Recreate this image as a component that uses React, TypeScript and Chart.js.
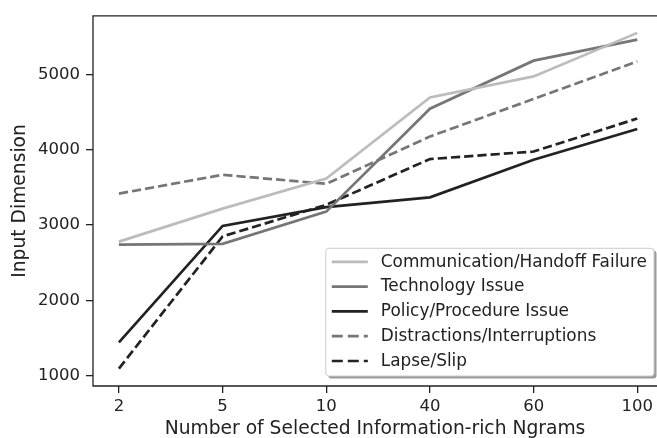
import React, { useEffect, useRef } from 'react';
import { Chart, registerables } from 'chart.js';

Chart.register(...registerables);

const xLabels = ['2', '5', '10', '40', '60', '100'];
const seriesNames = [
  'Communication/Handoff Failure',
  'Technology Issue',
  'Policy/Procedure Issue',
  'Distractions/Interruptions',
  'Lapse/Slip',
];
const communication = [2780, 3220, 3620, 4700, 4980, 5560];
const technology = [2740, 2750, 3180, 4550, 5190, 5470];
const policy = [1440, 2990, 3240, 3370, 3870, 4280];
const distractions = [3420, 3670, 3550, 4180, 4680, 5180];
const lapse = [1090, 2850, 3270, 3880, 3980, 4420];
const yTicks = [1000, 2000, 3000, 4000, 5000];

const FONT = "'DejaVu Sans', sans-serif";
const INK = '#222222';

const boxLegend = {
  id: 'boxLegend',
  afterDraw(chart: any) {
    const ctx = chart.ctx as CanvasRenderingContext2D;
    const { left, top, bottom } = chart.chartArea;
    const edge = chart.width;
    ctx.save();
    ctx.strokeStyle = INK;
    ctx.lineWidth = 1.3;
    ctx.beginPath();
    ctx.moveTo(edge + 2, top);
    ctx.lineTo(left, top);
    ctx.lineTo(left, bottom);
    ctx.lineTo(edge + 2, bottom);
    ctx.stroke();

    const fontSize = 16.9;
    ctx.font = `${fontSize}px ${FONT}`;
    const items = chart.data.datasets.map((d: any) => ({
      label: d.label as string,
      color: d.borderColor as string,
      dash: (d.borderDash || []) as number[],
      width: d.borderWidth as number,
    }));
    let maxW = 0;
    items.forEach((it: any) => {
      maxW = Math.max(maxW, ctx.measureText(it.label).width);
    });
    const rowH = 24.8;
    const boxW = 55 + maxW + 7;
    const boxH = 13.5 + rowH * (items.length - 1) + 15;
    const bx = edge - 3 - boxW;
    const by = bottom - 10 - boxH;

    const rr = (x: number, y: number, w: number, h: number, r: number) => {
      ctx.beginPath();
      ctx.moveTo(x + r, y);
      ctx.lineTo(x + w - r, y);
      ctx.quadraticCurveTo(x + w, y, x + w, y + r);
      ctx.lineTo(x + w, y + h - r);
      ctx.quadraticCurveTo(x + w, y + h, x + w - r, y + h);
      ctx.lineTo(x + r, y + h);
      ctx.quadraticCurveTo(x, y + h, x, y + h - r);
      ctx.lineTo(x, y + r);
      ctx.quadraticCurveTo(x, y, x + r, y);
      ctx.closePath();
    };
    ctx.fillStyle = 'rgba(120,120,120,0.75)';
    rr(bx + 2.5, by + 2.5, boxW, boxH, 3);
    ctx.fill();
    ctx.fillStyle = '#ffffff';
    rr(bx, by, boxW, boxH, 3);
    ctx.fill();
    ctx.strokeStyle = '#cccccc';
    ctx.lineWidth = 1;
    ctx.stroke();

    ctx.textBaseline = 'middle';
    ctx.textAlign = 'left';
    items.forEach((it: any, i: number) => {
      const cy = by + 13.5 + i * rowH;
      ctx.strokeStyle = it.color;
      ctx.lineWidth = it.width;
      ctx.setLineDash(it.dash.length ? [11, 5] : []);
      ctx.lineCap = 'butt';
      ctx.beginPath();
      ctx.moveTo(bx + 6, cy);
      ctx.lineTo(bx + 42, cy);
      ctx.stroke();
      ctx.setLineDash([]);
      ctx.fillStyle = INK;
      ctx.fillText(it.label, bx + 55, cy + 0.5);
    });
    ctx.restore();
  },
};

export default function App() {
  const ref = useRef<HTMLCanvasElement | null>(null);

  useEffect(() => {
    if (!ref.current) return;
    const seriesValues = [communication, technology, policy, distractions, lapse];
    const colors = ['#bcbcbc', '#767676', '#222222', '#767676', '#222222'];
    const dashes = [[], [], [], [9.25, 4], [9.25, 4]];
    const datasets = seriesNames.map((name, si) => ({
      label: name,
      data: seriesValues[si].map((v, i) => ({ x: i, y: v })),
      borderColor: colors[si],
      backgroundColor: colors[si],
      borderWidth: 2.7,
      borderDash: dashes[si],
      pointRadius: 0,
      tension: 0,
      fill: false,
    }));

    const chart = new Chart(ref.current, {
      type: 'line',
      data: { datasets },
      plugins: [boxLegend],
      options: {
        animation: false,
        responsive: false,
        maintainAspectRatio: false,
        devicePixelRatio: 1,
        layout: { padding: { top: 15, right: 0, left: 0, bottom: 0 } },
        plugins: {
          legend: { display: false },
          tooltip: { enabled: false },
        },
        scales: {
          x: {
            type: 'linear',
            min: -0.25,
            max: 5.19,
            afterBuildTicks: (scale: any) => {
              scale.ticks = xLabels.map((_, i) => ({ value: i }));
            },
            afterFit: (scale: any) => {
              scale.height = 52;
              scale.paddingRight = 0;
            },
            ticks: {
              callback: (v: any) => xLabels[v as number] ?? '',
              font: { family: FONT, size: 16.5 },
              color: INK,
              padding: 4,
              maxRotation: 0,
              autoSkip: false,
            },
            grid: {
              display: true,
              drawOnChartArea: false,
              drawTicks: true,
              tickLength: 7,
              color: INK,
              lineWidth: 1.3,
            },
            border: { display: false },
            title: {
              display: true,
              text: 'Number of Selected Information-rich Ngrams',
              font: { family: FONT, size: 18.7, lineHeight: 1 },
              color: INK,
              padding: { top: 0, bottom: 0 },
            },
          },
          y: {
            type: 'linear',
            min: 858,
            max: 5786,
            afterBuildTicks: (scale: any) => {
              scale.ticks = yTicks.map((v) => ({ value: v }));
            },
            afterFit: (scale: any) => {
              scale.width = 93;
            },
            ticks: {
              font: { family: FONT, size: 16.5 },
              color: INK,
              padding: 6,
              callback: (v: any) => String(v),
            },
            grid: {
              display: true,
              drawOnChartArea: false,
              drawTicks: true,
              tickLength: 7,
              color: INK,
              lineWidth: 1.3,
            },
            border: { display: false },
            title: {
              display: true,
              text: 'Input Dimension',
              font: { family: FONT, size: 18.7, lineHeight: 1 },
              color: INK,
              padding: { top: 11, bottom: 0 },
            },
          },
        },
      },
    } as any);
    return () => chart.destroy();
  }, []);

  return (
    <div style={{ position: 'fixed', left: 0, top: 0, width: 657, height: 438, background: '#fff', overflow: 'hidden' }}>
      <canvas ref={ref} width={657} height={438} style={{ width: 657, height: 438, display: 'block' }} />
    </div>
  );
}
